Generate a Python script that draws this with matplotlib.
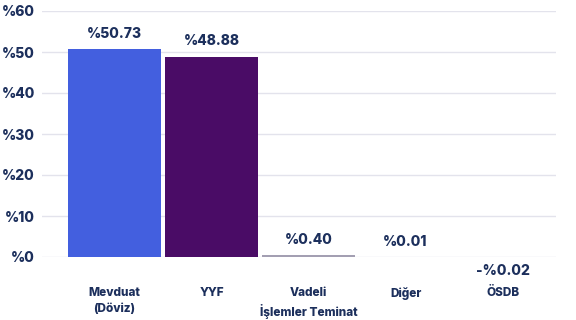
import matplotlib.pyplot as plt

# --- Data ---
categories = ["Mevduat\n(Döviz)", "YYF", "Vadeli\nİşlemler Teminat", "Diğer", "ÖSDB"]
values = [50.73, 48.88, 0.40, 0.01, -0.02]
value_labels = ["%50.73", "%48.88", "%0.40", "%0.01", "-%0.02"]
bar_colors = ["#435FDF", "#4A0C66", "#A39FB2", "#CDB0DA", "#D9B6E2"]
y_ticks = [0, 10, 20, 30, 40, 50, 60]

text_color = "#1C2F5C"
plt.rcParams['font.family'] = ['Inter', 'DejaVu Sans']

fig = plt.figure(figsize=(5.76, 3.2), dpi=100)
ax = fig.add_axes([42 / 576, 63 / 320, 514 / 576, 246 / 320])

x = list(range(len(categories)))
ax.bar(x, values, width=0.96, color=bar_colors, zorder=3)

ax.set_xlim(-0.747, 4.55)
ax.set_ylim(0, 60)
ax.set_yticks(y_ticks)
ax.set_yticklabels([f"%{t}" for t in y_ticks], fontsize=10, fontweight='heavy', color=text_color)
ax.tick_params(axis='y', length=0, pad=5)
ax.set_xticks([])
ax.grid(axis='y', color='#E3E3EC', linewidth=1, zorder=0)
for s in ax.spines.values():
    s.set_visible(False)

# value labels
for xi, v, lab in zip(x, values, value_labels):
    if v >= 0:
        ax.annotate(lab, (xi, v), xytext=(0, 6), textcoords='offset points',
                    ha='center', va='bottom', fontsize=10, fontweight='heavy', color=text_color)
    else:
        ax.annotate(lab, (xi, 0), xytext=(0, -5), textcoords='offset points',
                    ha='center', va='top', fontsize=10, fontweight='heavy', color=text_color,
                    annotation_clip=False)

# category labels
for xi, cat in zip(x, categories):
    ax.annotate(cat, (xi, 0), xytext=(0, -21.5), textcoords='offset points',
                ha='center', va='top', fontsize=8.5, fontweight='heavy', color=text_color,
                linespacing=1.45, annotation_clip=False)

fig.savefig("out.png", dpi=100)
